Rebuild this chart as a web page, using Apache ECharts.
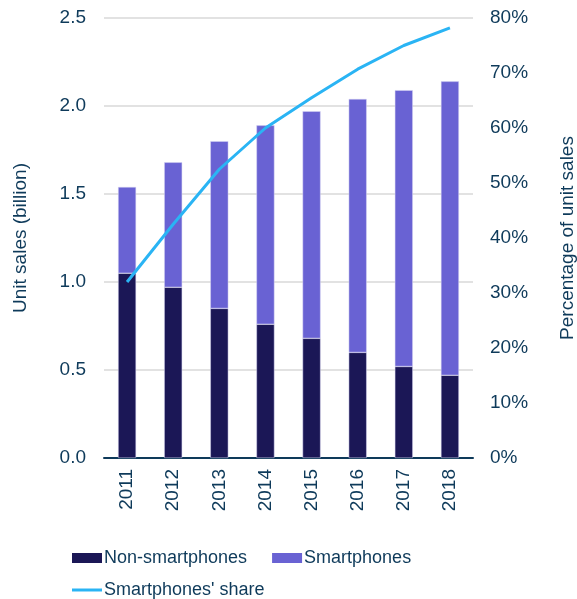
<!DOCTYPE html>
<html>
<head>
<meta charset="utf-8">
<script src="https://cdn.jsdelivr.net/npm/echarts@6/dist/echarts.min.js"></script>
<style>
  html, body { margin: 0; padding: 0; background: #fff; }
  #chart { width: 577px; height: 599px; }
</style>
</head>
<body>
<div id="chart"></div>
<script>
var years = ['2011', '2012', '2013', '2014', '2015', '2016', '2017', '2018'];
var nonSmart = [1.05, 0.97, 0.85, 0.76, 0.68, 0.60, 0.52, 0.47];
var smart = [0.49, 0.71, 0.95, 1.13, 1.29, 1.44, 1.57, 1.67];
var share = [32, 42.5, 52.5, 60, 65.5, 70.7, 75, 78.2];

var textColor = '#0E3A5A';
var myChart = echarts.init(document.getElementById('chart'));

var option = {
    backgroundColor: '#fff',
    animation: false,
    textStyle: { fontFamily: 'Liberation Sans, Arial, sans-serif' },
    grid: { left: 104, right: 104, top: 18, bottom: 141, containLabel: false, outerBoundsMode: 'none' },
    legend: [
        {
            data: [
                { name: 'Non-smartphones', itemStyle: { borderWidth: 0 } },
                { name: 'Smartphones', itemStyle: { borderWidth: 0 } }
            ],
            left: 67, top: 544,
            itemWidth: 30, itemHeight: 10, itemGap: 25,
            textStyle: { color: textColor, fontSize: 18, padding: [0, 0, 0, -3] },
            icon: 'rect'
        },
        {
            data: ['Smartphones\' share'],
            left: 67, top: 576,
            itemWidth: 30, itemHeight: 3,
            icon: 'path://M0,0 L30,0 L30,3 L0,3 Z',
            textStyle: { color: textColor, fontSize: 18, padding: [0, 0, 0, -3] }
        }
    ],
    xAxis: {
        type: 'category',
        data: years,
        axisLine: { lineStyle: { color: '#0E3A5A', width: 2 } },
        axisTick: { show: false },
        axisLabel: { rotate: 90, color: textColor, fontSize: 19, margin: 11 }
    },
    yAxis: [
        {
            type: 'value',
            min: 0, max: 2.5, interval: 0.5,
            name: 'Unit sales (billion)',
            nameLocation: 'middle',
            nameGap: 74,
            nameTextStyle: { color: textColor, fontSize: 19 },
            axisLine: { show: false },
            axisTick: { show: false },
            axisLabel: {
                color: textColor, fontSize: 19, margin: 18,
                formatter: function (v) { return v.toFixed(1); }
            },
            splitLine: { lineStyle: { color: '#D9D9D9', width: 1.5 } }
        },
        {
            type: 'value',
            min: 0, max: 80, interval: 10,
            position: 'right',
            name: 'Percentage of unit sales',
            nameLocation: 'middle',
            nameGap: 85,
            nameRotate: 90,
            nameTextStyle: { color: textColor, fontSize: 19 },
            axisLine: { show: false },
            axisTick: { show: false },
            axisLabel: { color: textColor, fontSize: 19, margin: 17, formatter: '{value}%' },
            splitLine: { show: false }
        }
    ],
    series: [
        {
            name: 'Non-smartphones',
            type: 'bar',
            stack: 'sales',
            data: nonSmart,
            barWidth: 18,
            itemStyle: { color: '#1B1756', borderColor: '#D8D6F2', borderWidth: 0.5 }
        },
        {
            name: 'Smartphones',
            type: 'bar',
            stack: 'sales',
            data: smart,
            barWidth: 18,
            itemStyle: { color: '#6962D3', borderColor: '#D8D6F2', borderWidth: 0.5 }
        },
        {
            name: 'Smartphones\' share',
            type: 'line',
            yAxisIndex: 1,
            data: share,
            showSymbol: false,
            symbol: 'none',
            lineStyle: { color: '#2AB4F4', width: 3 },
            itemStyle: { color: '#2AB4F4' },
            z: 5
        }
    ]
};
option && myChart.setOption(option);
</script>
</body>
</html>
